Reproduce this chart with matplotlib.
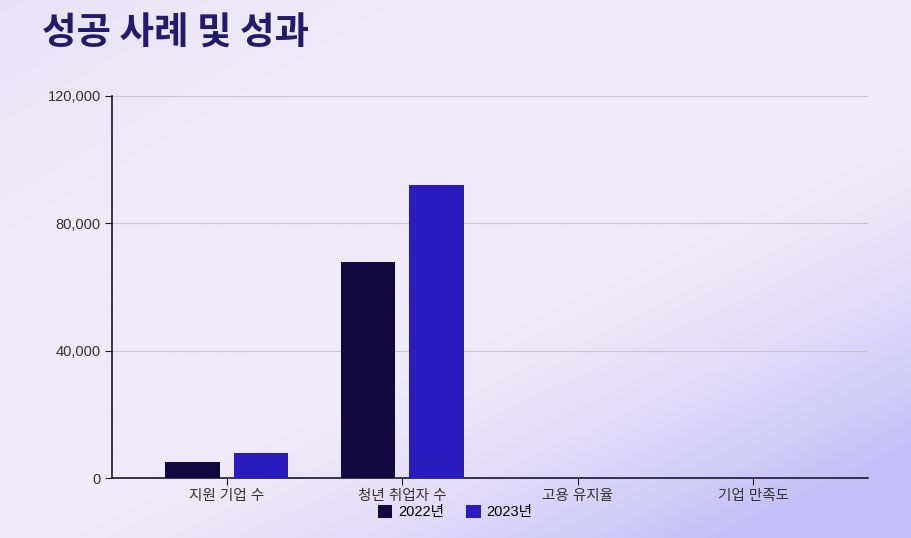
import matplotlib
matplotlib.use("Agg")
import matplotlib.pyplot as plt
import numpy as np
from matplotlib.colors import LinearSegmentedColormap

plt.rcParams['font.family'] = ['Liberation Sans', 'Noto Sans CJK KR', 'DejaVu Sans']

categories = ["지원 기업 수", "청년 취업자 수", "고용 유지율", "기업 만족도"]
series_2022 = [5000, 68000, 85, 4.5]
series_2023 = [8000, 92000, 88, 4.7]
yticks = [0, 40000, 80000, 120000]

W, H = 9.11, 5.38
fig = plt.figure(figsize=(W, H), dpi=100)

# background gradient
bg = fig.add_axes([0, 0, 1, 1], zorder=-10)
yy, xx = np.mgrid[0:1:200j, 0:1:340j]  # yy=0 top
d = np.clip(((xx - 0.5) / 0.5 + (yy - 0.6) / 0.4) / 1.6, 0, 1) ** 1.6
d2 = np.clip(1 - (xx + yy) / 0.5, 0, 1)
cmap = LinearSegmentedColormap.from_list("g", ["#f0eaf9", "#c4bff7"])
img = cmap(d)
img[..., :3] = img[..., :3] * (1 - 0.5 * d2[..., None]) + np.array([0.88, 0.86, 0.97]) * 0.5 * d2[..., None]
bg.imshow(img, extent=[0, 1, 0, 1], aspect="auto", origin="upper")
bg.axis("off")

ax = fig.add_axes([112 / 911, 1 - 478 / 538, (868 - 112) / 911, (478 - 96) / 538])
ax.set_facecolor("none")
x = np.arange(len(categories))
w = 0.31
off = 0.195
ax.bar(x - off, series_2022, w, color="#110840", label="2022년", zorder=3)
ax.bar(x + off, series_2023, w, color="#2b1bbf", label="2023년", zorder=3)
ax.set_xlim(-0.655, 3.655)
ax.set_ylim(0, 120000)
ax.set_yticks(yticks)
ax.set_yticklabels([f"{v:,}" for v in yticks], fontsize=10.5, color="#333333")
ax.set_xticks(x)
ax.set_xticklabels(categories, fontsize=10.5, color="#333333")
ax.grid(axis="y", color="#c8c3d3", lw=0.8, zorder=0)
for s in ["top", "right"]:
    ax.spines[s].set_visible(False)
for s in ["left", "bottom"]:
    ax.spines[s].set_color("#1a1530")
    ax.spines[s].set_linewidth(1.2)
ax.tick_params(length=5, color="#1a1530", pad=3)

fig.legend(loc="center", bbox_to_anchor=(455 / 911, 1 - 512 / 538), ncol=2,
           frameon=False, fontsize=10.5, handlelength=1.0, handleheight=1.0,
           columnspacing=1.5, handletextpad=0.4)
fig.text(42 / 911, 1 - 33 / 538, "성공 사례 및 성과", fontsize=27, fontweight="bold",
         color="#241a6b", va="center", ha="left", family=['Noto Sans CJK KR', 'DejaVu Sans'])

fig.savefig("out.png", dpi=100)
